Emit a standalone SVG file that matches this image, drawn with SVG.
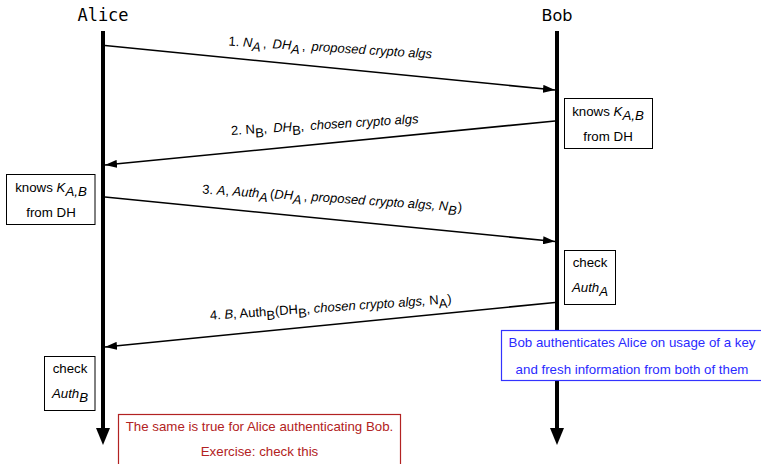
<svg xmlns="http://www.w3.org/2000/svg" width="761" height="464" viewBox="0 0 761 464">
<style>
.lbl{font-family:"Liberation Sans",Arial,sans-serif;font-size:13px;fill:#000}
.bx{font-family:"Liberation Sans",Arial,sans-serif;font-size:13.3px;fill:#000;text-anchor:middle}
.i{font-style:italic}
.life{stroke:#000;stroke-width:4;fill:none}
.msg{stroke:#000;stroke-width:1.6;fill:none;marker-end:url(#ah)}
.box{fill:#fff;stroke:#000;stroke-width:1}
</style>
<defs>
<marker id="ah" markerUnits="userSpaceOnUse" markerWidth="12" markerHeight="8" refX="12" refY="4" orient="auto">
<path d="M0,0 L12,4 L0,8 z" fill="#000"/>
</marker>
</defs>
<rect width="761" height="464" fill="#fff"/>

<g id="alice">
<text x="103" y="21" font-family="DejaVu Sans Mono,monospace" font-size="17" text-anchor="middle">Alice</text>
<line class="life" x1="103" y1="31" x2="103" y2="430"/>
<polygon points="96,428 110,428 103,445" fill="#000"/>
</g>
<g id="bob">
<text x="557" y="21" font-family="DejaVu Sans,sans-serif" font-size="16" text-anchor="middle">Bob</text>
<line class="life" x1="557" y1="31" x2="557" y2="430"/>
<polygon points="550,428 564,428 557,445" fill="#000"/>
</g>

<g id="connectors">
<line class="msg" x1="105" y1="45.5" x2="555" y2="90"/>
<line class="msg" x1="555" y1="121" x2="105" y2="165"/>
<line class="msg" x1="105" y1="197" x2="555" y2="241.5"/>
<line class="msg" x1="555" y1="302.5" x2="105" y2="347"/>

<text class="lbl" transform="translate(330,52) rotate(3.6)" text-anchor="middle">1. <tspan class="i">N</tspan><tspan class="i" dy="4">A</tspan><tspan dy="-4" dx="2">,</tspan><tspan class="i" dx="6">DH</tspan><tspan class="i" dy="4">A</tspan><tspan dy="-4" dx="2">,</tspan><tspan class="i" dx="6">proposed crypto algs</tspan></text>

<text class="lbl" transform="translate(325,129) rotate(-3.6)" text-anchor="middle">2. N<tspan dy="4">B</tspan><tspan dy="-4">,</tspan><tspan class="i" dx="6">DH</tspan><tspan dy="4">B</tspan><tspan dy="-4">,</tspan><tspan class="i" dx="6">chosen crypto algs</tspan></text>

<text class="lbl" transform="translate(332,202.5) rotate(4)" text-anchor="middle">3. <tspan class="i">A</tspan>, <tspan class="i">Auth</tspan><tspan class="i" dy="4">A</tspan><tspan dy="-4" dx="2">(</tspan><tspan class="i">DH</tspan><tspan class="i" dy="4">A</tspan><tspan dy="-4" dx="2">,</tspan><tspan class="i" dx="4">proposed crypto algs, N</tspan><tspan class="i" dy="4">B</tspan><tspan dy="-4" dx="1">)</tspan></text>

<text class="lbl" transform="translate(331,311.5) rotate(-3.9)" text-anchor="middle">4. <tspan class="i">B</tspan>, Auth<tspan dy="4">B</tspan><tspan dy="-4">(DH</tspan><tspan dy="4">B</tspan><tspan dy="-4">, </tspan><tspan class="i">chosen crypto algs, </tspan>N<tspan dy="4">A</tspan><tspan dy="-4">)</tspan></text>
</g>

<g id="bob-knows">
<rect class="box" x="564.5" y="98.5" width="88" height="50"/>
<text class="bx" x="608" y="116">knows <tspan class="i">K</tspan><tspan class="i" dy="4">A,B</tspan></text>
<text class="bx" x="608" y="141">from DH</text>
</g>

<g id="alice-knows">
<rect class="box" x="6.5" y="174.5" width="88.5" height="50"/>
<text class="bx" x="51" y="192">knows <tspan class="i">K</tspan><tspan class="i" dy="4">A,B</tspan></text>
<text class="bx" x="51" y="217">from DH</text>
</g>

<g id="bob-check">
<rect class="box" x="564.5" y="250.5" width="51" height="54"/>
<text class="bx" x="590" y="267">check</text>
<text class="bx i" x="590" y="292">Auth<tspan dy="4">A</tspan></text>
</g>

<g id="alice-check">
<rect class="box" x="44.5" y="356.5" width="50.5" height="54"/>
<text class="bx" x="70" y="373">check</text>
<text class="bx i" x="70" y="398">Auth<tspan dy="4">B</tspan></text>
</g>

<g id="note-blue">
<rect x="501.5" y="330.5" width="265" height="50" fill="#fff" stroke="#3333ff" stroke-width="1.2"/>
<text class="bx" x="632" y="347" style="fill:#2a2aff">Bob authenticates Alice on usage of a key</text>
<text class="bx" x="632" y="374" style="fill:#2a2aff">and fresh information from both of them</text>
</g>

<g id="note-red">
<rect x="118.5" y="414.5" width="282" height="60" fill="#fff" stroke="#b22222" stroke-width="1.2"/>
<text class="bx" x="259.5" y="431" style="fill:#b22222">The same is true for Alice authenticating Bob.</text>
<text class="bx" x="259.5" y="456" style="fill:#b22222">Exercise: check this</text>
</g>
</svg>
